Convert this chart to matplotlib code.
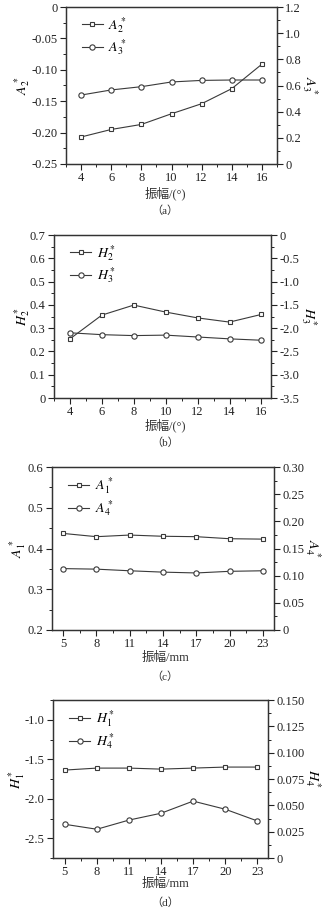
import matplotlib.pyplot as plt
import numpy as np
from matplotlib.ticker import FuncFormatter, AutoMinorLocator

plt.rcParams['font.family'] = ['Liberation Serif', 'Noto Sans CJK SC']
plt.rcParams['mathtext.fontset'] = 'stix'

# panel (a): swing angle, deg
angle = [4, 6, 8, 10, 12, 14, 16]
A2 = [-0.207, -0.195, -0.187, -0.170, -0.154, -0.130, -0.091]
A3 = [0.527, 0.566, 0.591, 0.627, 0.639, 0.642, 0.642]
# panel (b)
H2 = [0.254, 0.356, 0.399, 0.369, 0.344, 0.326, 0.359]
H3 = [-2.10, -2.14, -2.16, -2.15, -2.19, -2.23, -2.26]
# panel (c): amplitude, mm
amp = [5, 8, 11, 14, 17, 20, 23]
A1 = [0.437, 0.429, 0.433, 0.430, 0.429, 0.424, 0.423]
A4 = [0.113, 0.112, 0.109, 0.1065, 0.105, 0.108, 0.109]
# panel (d)
H1 = [-1.637, -1.612, -1.612, -1.625, -1.612, -1.599, -1.599]
H4 = [0.032, 0.0273, 0.036, 0.0425, 0.054, 0.0463, 0.0352]

W, H = 329, 913
col = '#3a3a3a'
fs = 9


def fmt(dec):
    return FuncFormatter(lambda v, p: '0' if abs(v) < 1e-9 else f'{v:.{dec}f}')


def style(ax):
    ax.tick_params(direction='out', length=4, width=0.8, labelsize=fs, colors='#222222',
                   pad=2)
    ax.tick_params(which='minor', direction='out', length=2, width=0.6)
    for s in ax.spines.values():
        s.set_linewidth(0.9)
        s.set_color('#333333')


def panel(box, x, y1, y2, lab1, lab2, xlim, xticks, yl1, yt1, d1, yl2, yt2, d2,
          labx, xlab, xlab_y, cap, cap_y):
    x0, y0, x1, yb = box
    ax = fig.add_axes([x0 / W, 1 - yb / H, (x1 - x0) / W, (yb - y0) / H])
    ax2 = ax.twinx()
    l1, = ax.plot(x, y1, '-s', color=col, lw=0.8, ms=3.5, mfc='white', mec=col, mew=0.8)
    l2, = ax2.plot(x, y2, '-o', color=col, lw=0.8, ms=3.8, mfc='white', mec=col, mew=0.8)
    ax.set_xlim(*xlim)
    ax.set_xticks(xticks)
    ax.set_ylim(*yl1)
    ax.set_yticks(yt1)
    ax.yaxis.set_major_formatter(fmt(d1))
    ax2.set_ylim(*yl2)
    ax2.set_yticks(yt2)
    ax2.yaxis.set_major_formatter(fmt(d2))
    for a in (ax, ax2):
        style(a)
        a.yaxis.set_minor_locator(AutoMinorLocator(2))
    ax.xaxis.set_minor_locator(AutoMinorLocator(2))
    ax.set_ylabel(lab1, fontsize=10, va='center')
    ax2.set_ylabel(lab2, fontsize=10, rotation=270, va='center')
    ax.yaxis.set_label_coords((labx[0] - x0) / (x1 - x0), 0.5)
    ax2.yaxis.set_label_coords((labx[1] - x0) / (x1 - x0), 0.5)
    ax.legend([l1, l2], [lab1, lab2], loc='upper left', frameon=False, fontsize=10,
              handlelength=1.5, handletextpad=0.4, labelspacing=0.2,
              borderaxespad=0.3, bbox_to_anchor=(0.03, 1.01))
    fig.text(165 / W, 1 - xlab_y / H, xlab, ha='center', va='center', fontsize=9,
             color='#333333')
    fig.text(165 / W, 1 - cap_y / H, cap, ha='center', va='center', fontsize=8,
             color='#333333')


fig = plt.figure(figsize=(W / 100, H / 100), dpi=100)

panel((66, 7, 277, 164), angle, A2, A3, r'$A_2^*$', r'$A_3^*$', (3, 17),
      angle, (-0.25, 0), np.arange(-0.25, 0.001, 0.05), 2,
      (0, 1.2), np.arange(0, 1.21, 0.2), 1, (22, 310), '振幅/(°)', 193, '（a）', 211)

panel((54, 235, 271, 398), angle, H2, H3, r'$H_2^*$', r'$H_3^*$', (3, 16.6),
      angle, (0, 0.7), np.arange(0, 0.71, 0.1), 1,
      (-3.5, 0), np.arange(-3.5, 0.01, 0.5), 1, (22, 309), '振幅/(°)', 425, '（b）', 443)

panel((52, 467, 274, 630), amp, A1, A4, r'$A_1^*$', r'$A_4^*$', (4, 24),
      amp, (0.2, 0.6), np.arange(0.2, 0.61, 0.1), 1,
      (0, 0.3), np.arange(0, 0.301, 0.05), 2, (18, 313), '振幅/mm', 658, '（c）', 677)

panel((53, 700, 268, 858), amp, H1, H4, r'$H_1^*$', r'$H_4^*$', (3.9, 24),
      amp, (-2.75, -0.75), np.arange(-2.5, -0.99, 0.5), 1,
      (0, 0.15), np.arange(0, 0.151, 0.025), 3, (17, 313), '振幅/mm', 884, '（d）', 903)

fig.savefig('out.png', dpi=100)
